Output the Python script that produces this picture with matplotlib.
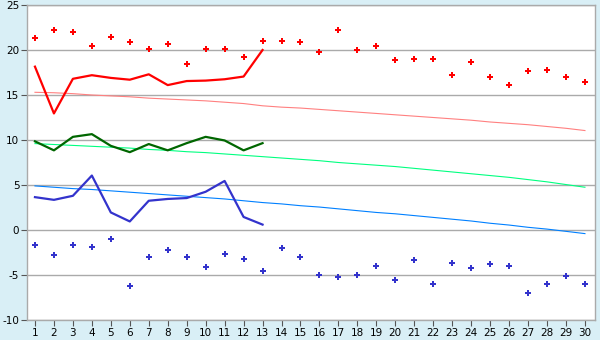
import numpy as np
import matplotlib.pyplot as plt

plt.rcParams['axes.unicode_minus'] = False

dias = np.arange(1, 31)
dias_obs = np.arange(1, 14)

# valores
max_abs = [21.3, 22.2, 21.95, 20.5, 21.4, 20.85, 20.1, 20.65, 18.5, 20.1,
           20.1, 19.2, 20.95, 21.05, 20.85, 19.75, 22.2, 19.95, 20.4, 18.85,
           18.95, 18.95, 17.2, 18.65, 16.95, 16.1, 17.65, 17.75, 16.95, 16.5]
min_abs = [-1.7, -2.8, -1.7, -1.9, -1.05, -6.25, -3.05, -2.25, -3.05, -4.15,
           -2.7, -3.25, -4.6, -2.05, -3.05, -5.05, -5.25, -5.05, -4.05, -5.6,
           -3.35, -6.05, -3.7, -4.25, -3.8, -4.05, -7.05, -6.05, -5.15, -6.05]
tmax = [18.15, 12.95, 16.8, 17.2, 16.9, 16.7, 17.3, 16.1, 16.55, 16.6,
        16.75, 17.05, 20.0]
tmed = [9.85, 8.85, 10.35, 10.65, 9.35, 8.65, 9.55, 8.85, 9.65, 10.35,
        9.95, 8.85, 9.65]
tmin = [3.65, 3.35, 3.8, 6.05, 1.95, 0.95, 3.25, 3.45, 3.55, 4.25,
        5.45, 1.45, 0.6]
norm_max = [15.3, 15.25, 15.15, 15.0, 14.9, 14.8, 14.65, 14.55, 14.45, 14.35,
            14.2, 14.05, 13.8, 13.65, 13.55, 13.4, 13.25, 13.1, 12.95, 12.8,
            12.65, 12.5, 12.35, 12.2, 12.0, 11.85, 11.7, 11.5, 11.3, 11.05]
norm_med = [9.6, 9.5, 9.4, 9.3, 9.2, 9.1, 8.95, 8.85, 8.7, 8.6,
            8.45, 8.3, 8.15, 8.0, 7.85, 7.7, 7.5, 7.35, 7.2, 7.05,
            6.85, 6.65, 6.45, 6.25, 6.05, 5.85, 5.6, 5.35, 5.05, 4.75]
norm_min = [4.9, 4.75, 4.6, 4.5, 4.35, 4.2, 4.05, 3.9, 3.75, 3.6,
            3.45, 3.25, 3.05, 2.9, 2.7, 2.55, 2.35, 2.15, 1.95, 1.8,
            1.6, 1.4, 1.2, 1.0, 0.75, 0.55, 0.3, 0.1, -0.15, -0.4]

fig = plt.figure(figsize=(6, 3.4), dpi=100, facecolor='#d9eff6')
ax = fig.add_axes([27/600, 20/340, 568/600, 315/340])
ax.set_facecolor('white')

# normais (linhas finas)
ax.plot(dias, norm_max, color='#ff8080', lw=0.8)
ax.plot(dias, norm_med, color='#00ff80', lw=0.8)
ax.plot(dias, norm_min, color='#0080ff', lw=0.8)

# observado
ax.plot(dias_obs, tmax, color='#ff0000', lw=1.6)
ax.plot(dias_obs, tmed, color='#006600', lw=1.6)
ax.plot(dias_obs, tmin, color='#3333cc', lw=1.6)

# extremos absolutos
ax.plot(dias, max_abs, 'P', color='#ff0000', ms=4, mew=0)
ax.plot(dias, min_abs, 'P', color='#3333cc', ms=4, mew=0)

ax.set_xlim(0.58, 30.53)
ax.set_ylim(-10, 25)
ax.set_xticks(dias)
ax.set_yticks(range(-10, 26, 5))
ax.grid(True, axis='y', color='#aaaaaa', lw=1)
ax.set_axisbelow(True)
for s in ax.spines.values():
    s.set_color('#aaaaaa')
    s.set_linewidth(1)
ax.tick_params(labelsize=7.5, color='#555555', length=4, pad=1.5)

fig.savefig('out.png', facecolor=fig.get_facecolor())
